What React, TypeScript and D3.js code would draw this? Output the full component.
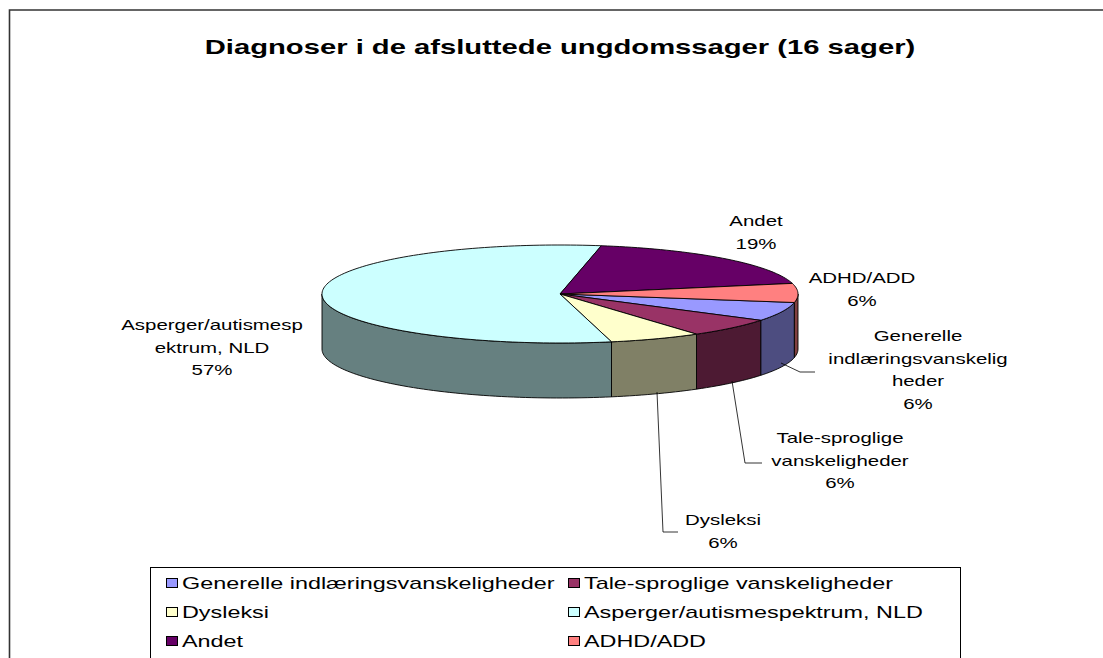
import React from "react";
import * as d3 from "d3";

const categories = [
  "Generelle indlæringsvanskeligheder",
  "Tale-sproglige vanskeligheder",
  "Dysleksi",
  "Asperger/autismespektrum, NLD",
  "Andet",
  "ADHD/ADD",
];
const caseCounts = [1, 1, 1, 9, 3, 1];
const percentLabels = ["6%", "6%", "6%", "57%", "19%", "6%"];
const labelLines = [
  ["Generelle", "indlæringsvanskelig", "heder"],
  ["Tale-sproglige", "vanskeligheder"],
  ["Dysleksi"],
  ["Asperger/autismesp", "ektrum, NLD"],
  ["Andet"],
  ["ADHD/ADD"],
];
const topColors = ["#9999FF", "#993366", "#FFFFCC", "#CCFFFF", "#660066", "#FF8080"];
const title = "Diagnoser i de afsluttede ungdomssager (16 sager)";

// layout
const W = 1103;
const H = 658;
const SX = 1.46; // horizontal stretch of the original picture
const FONT = "'Liberation Sans', Arial, Helvetica, sans-serif";
const cx = 560;
const cy = 294;
const rx = 238;
const ry = 49;
const depth = 55;
const startDeg = 100;
// label centers (x, y of first line)
const labelPos: [number, number][] = [
  [918, 336],
  [840, 438],
  [723, 520],
  [212, 325],
  [756, 221],
  [862, 278],
];
const leaders: ([number, number][] | null)[] = [
  [[781, 363], [800, 372], [815, 372]],
  [[732, 381], [745, 463], [762, 463]],
  [[657, 392], [663, 532], [678, 532]],
  null,
  null,
  null,
];
const legendRows = [583, 612, 641];
const legendCols = [166, 568];

function pt(a: number, dy = 0): [number, number] {
  return [cx + rx * Math.sin(a), cy - ry * Math.cos(a) + dy];
}

function arcPts(a0: number, a1: number, dy = 0): [number, number][] {
  const n = Math.max(2, Math.ceil(((a1 - a0) / (2 * Math.PI)) * 240));
  const out: [number, number][] = [];
  for (let i = 0; i <= n; i++) out.push(pt(a0 + ((a1 - a0) * i) / n, dy));
  return out;
}

function StretchText({ x, y, size, bold, children, anchor = "middle" }: any) {
  return (
    <text
      transform={`translate(${x},${y}) scale(${SX},1)`}
      fontFamily={FONT}
      fontSize={size}
      fontWeight={bold ? "bold" : "normal"}
      textAnchor={anchor}
      fill="#000"
    >
      {children}
    </text>
  );
}

export default function App() {
  const start = (startDeg * Math.PI) / 180;
  const pie = d3
    .pie<number>()
    .sort(null)
    .startAngle(start)
    .endAngle(start + 2 * Math.PI);
  const arcs = pie(caseCounts);
  const line = d3.line();
  const sideColor = (c: string) => {
    const col = d3.rgb(c);
    return d3.rgb(col.r / 2, col.g / 2, col.b / 2).formatHex();
  };

  const sides: JSX.Element[] = [];
  arcs.forEach((a, i) => {
    const ranges = [
      [Math.PI / 2, (3 * Math.PI) / 2],
      [Math.PI / 2 + 2 * Math.PI, (3 * Math.PI) / 2 + 2 * Math.PI],
    ];
    ranges.forEach(([r0, r1], k) => {
      const s = Math.max(a.startAngle, r0);
      const e = Math.min(a.endAngle, r1);
      if (e > s) {
        const top = arcPts(s, e);
        const bot = arcPts(s, e, depth).reverse();
        sides.push(
          <path
            key={`s${i}-${k}`}
            d={line([...top, ...bot])! + "Z"}
            fill={sideColor(topColors[i])}
            stroke="#000"
            strokeWidth={0.9}
            strokeLinejoin="round"
          />
        );
      }
    });
  });

  const tops = arcs.map((a, i) => (
    <path
      key={`t${i}`}
      d={line([[cx, cy], ...arcPts(a.startAngle, a.endAngle)])! + "Z"}
      fill={topColors[i]}
      stroke="#000"
      strokeWidth={0.9}
      strokeLinejoin="round"
    />
  ));

  return (
    <svg width={W} height={H} style={{ position: "absolute", left: 0, top: 0, background: "#fff" }}>
      <rect x={0} y={0} width={W} height={H} fill="#fff" />
      {/* chart frame */}
      <path d={`M9.5,${H + 2} L9.5,10 L${W + 2},10`} fill="none" stroke="#333" strokeWidth={1.6} />
      <StretchText x={560} y={54} size={20} bold>
        {title}
      </StretchText>
      {sides}
      {tops}
      {leaders.map((l, i) =>
        l ? <path key={`l${i}`} d={line(l)!} fill="none" stroke="#000" strokeWidth={0.8} /> : null
      )}
      {labelLines.map((lines, i) => {
        const [x, y] = labelPos[i];
        const all = [...lines, percentLabels[i]];
        return (
          <g key={`lab${i}`}>
            {all.map((t, j) => (
              <StretchText key={j} x={x} y={y + 5 + j * 22.7} size={14}>
                {t}
              </StretchText>
            ))}
          </g>
        );
      })}
      {/* legend */}
      <rect x={150.5} y={567.5} width={810} height={110} fill="#fff" stroke="#000" strokeWidth={1} />
      {categories.map((c, i) => {
        const col = i % 2;
        const row = Math.floor(i / 2);
        const x = legendCols[col];
        const y = legendRows[row];
        return (
          <g key={`lg${i}`}>
            <rect x={x + 0.5} y={y - 4.5} width={11} height={9} fill={topColors[i]} stroke="#000" strokeWidth={1} />
            <StretchText x={x + 16} y={y + 6} size={16} anchor="start">
              {c}
            </StretchText>
          </g>
        );
      })}
    </svg>
  );
}
